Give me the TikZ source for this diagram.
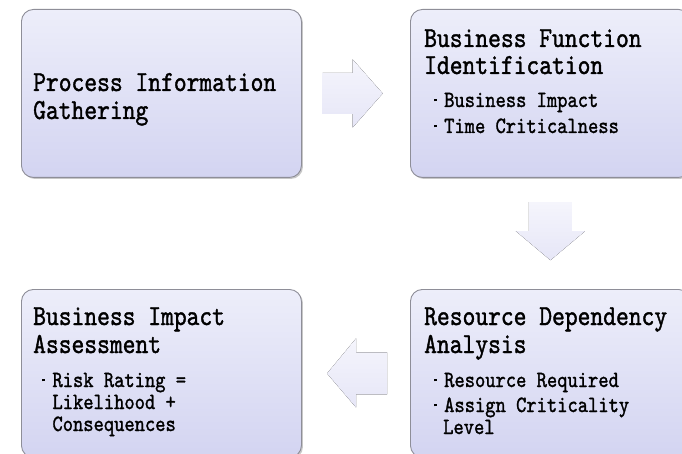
\documentclass[tikz,border=0pt]{standalone}
\usepackage{fontspec}
\setmonofont{lmmono10-regular.otf}[FakeStretch=0.84,FakeBold=1.3]
\usetikzlibrary{shadows,calc}

\definecolor{boxtop}{HTML}{EDEEFA}
\definecolor{boxbot}{HTML}{D3D4F1}
\definecolor{boxline}{HTML}{8E8E98}
\definecolor{arrtop}{HTML}{F5F5FC}
\definecolor{arrbot}{HTML}{E6E6F7}

\tikzset{
  stage/.style={draw=boxline, line width=0.9pt, rounded corners=12pt,
    top color=boxtop, bottom color=boxbot,
    minimum width=280pt, minimum height=168pt, inner sep=0pt, anchor=north west,
    drop shadow={shadow xshift=1.5pt, shadow yshift=-1.5pt, opacity=0.22, fill=black}},
  flow/.style={top color=arrtop, bottom color=arrbot, draw=none},
  title/.style={anchor=base west, inner sep=0pt, font=\ttfamily\fontsize{29}{30}\selectfont},
  item/.style={anchor=base west, inner sep=0pt, font=\ttfamily\fontsize{23.3}{24}\selectfont},
}
% small square bullet followed by the item text
\newcommand\bdot{\makebox[10.3pt][l]{\rule[5.6pt]{2.8pt}{2.8pt}}}

\begin{document}
\begin{tikzpicture}[x=1pt,y=-1pt]
\useasboundingbox (0,0) rectangle (682,454);
\clip (0,0) rectangle (682,454);

% the four stages
\node[stage] (b1) at (21,9) {};
\node[stage] (b2) at (410,9) {};
\node[stage] (b4) at (410,289) {};
\node[stage] (b3) at (21,289) {};

% block arrows between the stages
\path (b1.east) -- (b2.west) coordinate[pos=0.47] (m12);
\path (b2.south) -- (b4.north) coordinate[pos=0.48] (m24);
\path (b4.west) -- (b3.east) coordinate[pos=0.49] (m43);

\fill[flow] ($(m12)+(-30,-20.5)$) -- ($(m12)+(0,-20.5)$) -- ($(m12)+(0,-34)$)
  -- ($(m12)+(30,0)$) -- ($(m12)+(0,34)$) -- ($(m12)+(0,20.5)$)
  -- ($(m12)+(-30,20.5)$) -- cycle;
\fill[flow] ($(m24)+(-21.5,-29)$) -- ($(m24)+(21.5,-29)$) -- ($(m24)+(21.5,0)$)
  -- ($(m24)+(34.5,0)$) -- ($(m24)+(0,29)$) -- ($(m24)+(-34.5,0)$)
  -- ($(m24)+(-21.5,0)$) -- cycle;
\fill[flow] ($(m43)+(30,-21)$) -- ($(m43)+(-1,-21)$) -- ($(m43)+(-1,-35)$)
  -- ($(m43)+(-30,0)$) -- ($(m43)+(-1,34)$) -- ($(m43)+(-1,21)$)
  -- ($(m43)+(30,21)$) -- cycle;

% texts of stage 1
\node[title] (t1a) at (33,91) {Process Information};
\node[title] (t1b) at (33,119) {Gathering};

% texts of stage 2
\node[title] (t2a) at (424,47) {Business Function};
\node[title] (t2b) at (424,74) {Identification};
\node[item] (i2a) at (433.7,107) {\bdot Business Impact};
\node[item] (i2b) at (433.7,133) {\bdot Time Criticalness};

% texts of stage 3
\node[title] (t3a) at (33,325) {Business Impact};
\node[title] (t3b) at (33,353) {Assessment};
\node[item] (i3a) at (42,387) {\bdot Risk Rating =};
\node[item] (i3b) at (52.3,409) {Likelihood +};
\node[item] (i3c) at (52.3,431) {Consequences};

% texts of stage 4
\node[title] (t4a) at (424,325) {Resource Dependency};
\node[title] (t4b) at (424,353) {Analysis};
\node[item] (i4a) at (433.7,387) {\bdot Resource Required};
\node[item] (i4b) at (433.7,412) {\bdot Assign Criticality};
\node[item] (i4c) at (443,434) {Level};
\end{tikzpicture}
\end{document}
